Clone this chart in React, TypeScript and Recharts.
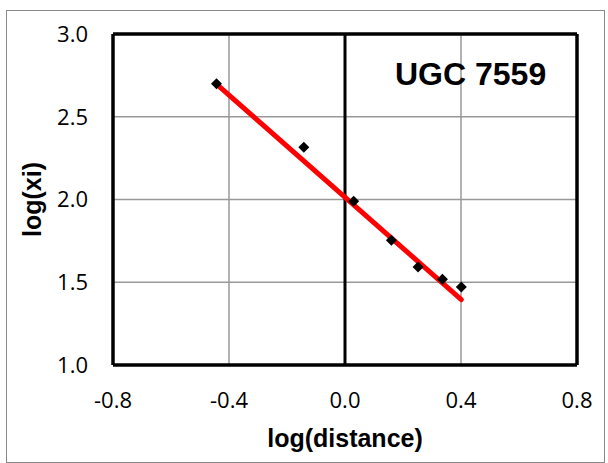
import React from "react";
import {
  ScatterChart,
  Scatter,
  XAxis,
  YAxis,
  CartesianGrid,
  ReferenceLine,
  Label,
} from "recharts";

// measured points
const logDistance = [-0.443, -0.142, 0.03, 0.16, 0.252, 0.336, 0.401];
const logXi = [2.7, 2.316, 1.99, 1.754, 1.592, 1.518, 1.471];

// linear fit, endpoints as drawn
const fitX = [-0.443, 0.401];
const fitY = [2.697, 1.395];

const xTicks = [-0.8, -0.4, 0, 0.4, 0.8];
const yTicks = [1, 1.5, 2, 2.5, 3];

const points = logDistance.map((x, i) => ({ x, y: logXi[i] }));
const fitLine = fitX.map((x, i) => ({ x, y: fitY[i] }));

const TICK_STYLE = { fill: "#000", fontSize: 22, fontFamily: "'Open Sans', sans-serif" };
const TITLE_FONT = "'Liberation Sans', Arial, sans-serif";

function Diamond(props: any) {
  const { cx, cy } = props;
  if (cx == null || cy == null) return null;
  const r = 5.5;
  return (
    <polygon
      points={`${cx},${cy - r} ${cx + r},${cy} ${cx},${cy + r} ${cx - r},${cy}`}
      fill="#000"
    />
  );
}

function YTitle(props: any) {
  const { viewBox } = props;
  const cy = viewBox.y + viewBox.height / 2;
  return (
    <text
      x={41}
      y={cy}
      transform={`rotate(-90, 41, ${cy})`}
      textAnchor="middle"
      fontSize={25}
      fontWeight="bold"
      fontFamily={TITLE_FONT}
      fill="#000"
    >
      log(xi)
    </text>
  );
}

export default function App() {
  return (
    <div style={{ position: "fixed", left: 0, top: 0, width: 608, height: 463, background: "#fff" }}>
      <div
        style={{
          position: "absolute",
          left: 6,
          top: 10,
          width: 597,
          height: 451,
          border: "1px solid #8a8a8a",
        }}
      />
      <ScatterChart width={608} height={463} margin={{ top: 34, right: 31, left: 0, bottom: 0 }}>
        <CartesianGrid stroke="#999" strokeWidth={1.5} />
        <XAxis
          type="number"
          dataKey="x"
          domain={[-0.8, 0.8]}
          ticks={xTicks}
          tickFormatter={(v: number) => v.toFixed(1)}
          tick={TICK_STYLE}
          tickLine={false}
          axisLine={false}
          tickMargin={21}
          height={98}
          allowDataOverflow
        >
          <Label
            value="log(distance)"
            position="insideBottom"
            offset={16}
            style={{ fontSize: 25, fontWeight: "bold", fontFamily: TITLE_FONT, fill: "#000" }}
          />
        </XAxis>
        <YAxis
          type="number"
          dataKey="y"
          domain={[1, 3]}
          ticks={yTicks}
          tickFormatter={(v: number) => v.toFixed(1)}
          tick={TICK_STYLE}
          tickLine={false}
          axisLine={false}
          tickMargin={19}
          width={113}
          allowDataOverflow
        >
          <Label content={<YTitle />} />
        </YAxis>
        <ReferenceLine x={0} stroke="#000" strokeWidth={3} />
        <ReferenceLine x={-0.8} stroke="#000" strokeWidth={3.5} />
        <ReferenceLine x={0.8} stroke="#000" strokeWidth={3.5} />
        <ReferenceLine y={1} stroke="#000" strokeWidth={3.5} />
        <ReferenceLine y={3} stroke="#000" strokeWidth={3.5} />
        <Scatter
          data={fitLine}
          line={{ stroke: "#ff0000", strokeWidth: 5, strokeLinecap: "round" }}
          shape={() => null}
          isAnimationActive={false}
        />
        <Scatter data={points} shape={<Diamond />} fill="#000" isAnimationActive={false} />
      </ScatterChart>
      <div
        style={{
          position: "absolute",
          left: 395,
          top: 55,
          fontSize: 32,
          fontWeight: "bold",
          fontFamily: TITLE_FONT,
          color: "#000",
          lineHeight: "38px",
        }}
      >
        UGC 7559
      </div>
    </div>
  );
}
